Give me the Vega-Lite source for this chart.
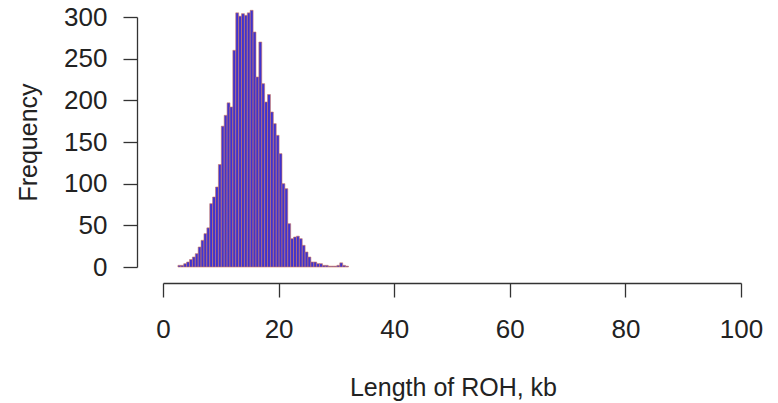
{
  "$schema": "https://vega.github.io/schema/vega-lite/v6.json",
  "autosize": {"type": "none"},
  "padding": {"left": 163, "top": 17, "right": 37, "bottom": 136},
  "width": 578,
  "height": 250,
  "background": "white",
  "config": {
    "view": {"stroke": null},
    "font": "Liberation Sans",
    "axis": {"grid": false, "domainColor": "#333333", "tickColor": "#333333", "labelColor": "#222222", "titleColor": "#222222", "labelFont": "Liberation Sans", "titleFont": "Liberation Sans", "labelFontSize": 26, "titleFontSize": 25, "titleFontWeight": "normal", "domainWidth": 1.3, "tickWidth": 1.3}
  },
  "data": {"values": [
    {"start": 2.5, "end": 3.0, "count": 2},
    {"start": 3.0, "end": 3.5, "count": 2},
    {"start": 3.5, "end": 4.0, "count": 4},
    {"start": 4.0, "end": 4.5, "count": 6},
    {"start": 4.5, "end": 5.0, "count": 9},
    {"start": 5.0, "end": 5.5, "count": 12},
    {"start": 5.5, "end": 6.0, "count": 16},
    {"start": 6.0, "end": 6.5, "count": 24},
    {"start": 6.5, "end": 7.0, "count": 32},
    {"start": 7.0, "end": 7.5, "count": 40},
    {"start": 7.5, "end": 8.0, "count": 47},
    {"start": 8.0, "end": 8.5, "count": 76},
    {"start": 8.5, "end": 9.0, "count": 84},
    {"start": 9.0, "end": 9.5, "count": 96},
    {"start": 9.5, "end": 10.0, "count": 123},
    {"start": 10.0, "end": 10.5, "count": 169},
    {"start": 10.5, "end": 11.0, "count": 182},
    {"start": 11.0, "end": 11.5, "count": 197},
    {"start": 11.5, "end": 12.0, "count": 192},
    {"start": 12.0, "end": 12.5, "count": 260},
    {"start": 12.5, "end": 13.0, "count": 305},
    {"start": 13.0, "end": 13.5, "count": 301},
    {"start": 13.5, "end": 14.0, "count": 304},
    {"start": 14.0, "end": 14.5, "count": 302},
    {"start": 14.5, "end": 15.0, "count": 305},
    {"start": 15.0, "end": 15.5, "count": 308},
    {"start": 15.5, "end": 16.0, "count": 282},
    {"start": 16.0, "end": 16.5, "count": 228},
    {"start": 16.5, "end": 17.0, "count": 270},
    {"start": 17.0, "end": 17.5, "count": 220},
    {"start": 17.5, "end": 18.0, "count": 198},
    {"start": 18.0, "end": 18.5, "count": 207},
    {"start": 18.5, "end": 19.0, "count": 186},
    {"start": 19.0, "end": 19.5, "count": 172},
    {"start": 19.5, "end": 20.0, "count": 158},
    {"start": 20.0, "end": 20.5, "count": 136},
    {"start": 20.5, "end": 21.0, "count": 100},
    {"start": 21.0, "end": 21.5, "count": 94},
    {"start": 21.5, "end": 22.0, "count": 52},
    {"start": 22.0, "end": 22.5, "count": 34},
    {"start": 22.5, "end": 23.0, "count": 36},
    {"start": 23.0, "end": 23.5, "count": 37},
    {"start": 23.5, "end": 24.0, "count": 34},
    {"start": 24.0, "end": 24.5, "count": 26},
    {"start": 24.5, "end": 25.0, "count": 18},
    {"start": 25.0, "end": 25.5, "count": 12},
    {"start": 25.5, "end": 26.0, "count": 6},
    {"start": 26.0, "end": 26.5, "count": 6},
    {"start": 26.5, "end": 27.0, "count": 4},
    {"start": 27.0, "end": 27.5, "count": 4},
    {"start": 27.5, "end": 28.0, "count": 2},
    {"start": 28.0, "end": 28.5, "count": 2},
    {"start": 28.5, "end": 29.0, "count": 1},
    {"start": 29.0, "end": 29.5, "count": 1},
    {"start": 29.5, "end": 30.0, "count": 1},
    {"start": 30.0, "end": 30.5, "count": 2},
    {"start": 30.5, "end": 31.0, "count": 5},
    {"start": 31.0, "end": 31.5, "count": 2},
    {"start": 31.5, "end": 32.0, "count": 1}
  ]},
  "mark": {"type": "bar", "fill": "#3f33cf", "stroke": "#d0785e", "strokeWidth": 0.6, "binSpacing": 0},
  "encoding": {
    "x": {"field": "start", "type": "quantitative", "bin": "binned",
      "scale": {"domain": [0, 100], "nice": false, "zero": false},
      "axis": {"values": [0, 20, 40, 60, 80, 100], "offset": 16, "tickSize": 14, "labelPadding": 19, "labelBaseline": "top", "title": "Length of ROH, kb", "titleX": 290, "titleY": 104, "titleBaseline": "middle", "titleAnchor": null, "labelFlush": false}},
    "x2": {"field": "end"},
    "y": {"field": "count", "type": "quantitative",
      "scale": {"domain": [0, 300], "nice": false},
      "axis": {"values": [0, 50, 100, 150, 200, 250, 300], "offset": 26, "tickSize": 14, "labelPadding": 16, "title": "Frequency", "titleX": -109, "titleY": 125, "titleAngle": -90, "titleBaseline": "middle", "titleAlign": "center", "labelFlush": false}}
  }
}
